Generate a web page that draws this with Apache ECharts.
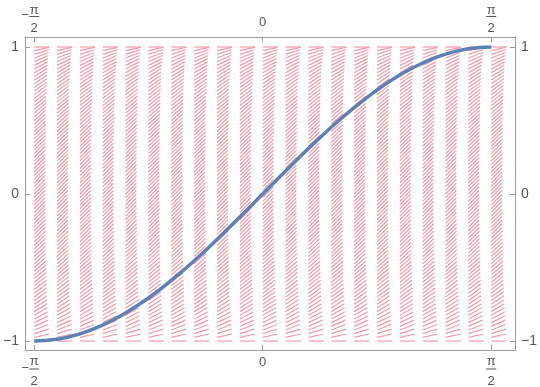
<!DOCTYPE html>
<html><head><meta charset="utf-8">
<script src="https://cdn.jsdelivr.net/npm/echarts@6/dist/echarts.min.js"></script>
<style>html,body{margin:0;padding:0;background:#fff}#c{width:540px;height:387px}</style>
</head><body><div id="c"></div>
<script>
// Tick values and labels
const xTickValues = [-1.5708, 0, 1.5708];
const xTickLabels = ['−π/2', '0', 'π/2'];
const yTickValues = [-1, 0, 1];
const yTickLabels = ['−1', '0', '1'];

// Slope-field grid: column x positions
const fieldX = [-1.5708, -1.4137, -1.2566, -1.0996, -0.9425, -0.7854, -0.6283, -0.4712, -0.3142, -0.1571, 0,
  0.1571, 0.3142, 0.4712, 0.6283, 0.7854, 0.9425, 1.0996, 1.2566, 1.4137, 1.5708];
// row y positions
const fieldY = [-1, -0.975, -0.95, -0.925, -0.9, -0.875, -0.85, -0.825, -0.8, -0.775, -0.75, -0.725, -0.7, -0.675,
  -0.65, -0.625, -0.6, -0.575, -0.55, -0.525, -0.5, -0.475, -0.45, -0.425, -0.4, -0.375, -0.35, -0.325, -0.3,
  -0.275, -0.25, -0.225, -0.2, -0.175, -0.15, -0.125, -0.1, -0.075, -0.05, -0.025, 0,
  0.025, 0.05, 0.075, 0.1, 0.125, 0.15, 0.175, 0.2, 0.225, 0.25, 0.275, 0.3, 0.325, 0.35, 0.375, 0.4, 0.425,
  0.45, 0.475, 0.5, 0.525, 0.55, 0.575, 0.6, 0.625, 0.65, 0.675, 0.7, 0.725, 0.75, 0.775, 0.8, 0.825, 0.85,
  0.875, 0.9, 0.925, 0.95, 0.975, 1];
// slope of the dashes in each row
const fieldSlope = [0, 0.222, 0.312, 0.380, 0.436, 0.484, 0.527, 0.565, 0.600, 0.632, 0.661, 0.689, 0.714, 0.738,
  0.760, 0.781, 0.800, 0.818, 0.835, 0.851, 0.866, 0.880, 0.893, 0.905, 0.917, 0.927, 0.937, 0.946, 0.954,
  0.961, 0.968, 0.974, 0.980, 0.985, 0.989, 0.992, 0.995, 0.997, 0.999, 1.000, 1,
  1.000, 0.999, 0.997, 0.995, 0.992, 0.989, 0.985, 0.980, 0.974, 0.968, 0.961, 0.954, 0.946, 0.937, 0.927, 0.917, 0.905,
  0.893, 0.880, 0.866, 0.851, 0.835, 0.818, 0.800, 0.781, 0.760, 0.738, 0.714, 0.689, 0.661, 0.632, 0.600, 0.565, 0.527,
  0.484, 0.436, 0.380, 0.312, 0.222, 0];

// Solution curve
const curveX = [-1.5708, -1.4137, -1.2566, -1.0996, -0.9425, -0.7854, -0.6283, -0.4712, -0.3142, -0.1571, 0,
  0.1571, 0.3142, 0.4712, 0.6283, 0.7854, 0.9425, 1.0996, 1.2566, 1.4137, 1.5708];
const curveY = [-1, -0.988, -0.951, -0.891, -0.809, -0.707, -0.588, -0.454, -0.309, -0.156, 0,
  0.156, 0.309, 0.454, 0.588, 0.707, 0.809, 0.891, 0.951, 0.988, 1];

const SEG = 0.105;
const FRAME = '#9a9a9a';
const TXT = '#555555';
const FONT = '13px "Liberation Sans", Arial, sans-serif';

const fieldData = [];
fieldX.forEach(x => fieldY.forEach((y, j) => fieldData.push([x, y, fieldSlope[j]])));
const curveData = curveX.map((x, i) => [x, curveY[i]]);

function labelOf(v) {
  const i = xTickValues.findIndex(t => Math.abs(t - v) < 1e-3);
  return i >= 0 ? xTickLabels[i] : '';
}
// fraction labels are drawn as stacked text below; plain labels via the axis
function fmtX(v) { const s = labelOf(v); return s.indexOf('/') >= 0 ? '' : s; }
function fmtY(v) {
  const i = yTickValues.findIndex(t => Math.abs(t - v) < 1e-6);
  return i >= 0 ? yTickLabels[i] : '';
}

function xAxisCfg(pos, margin) {
  return {
    type: 'value', position: pos, min: -1.6342, max: 1.7344,
    axisLine: {show: true, onZero: false, lineStyle: {color: FRAME, width: 1}},
    axisTick: {show: true, inside: true, length: 5, customValues: xTickValues, lineStyle: {color: FRAME}},
    axisLabel: {show: true, customValues: xTickValues, formatter: fmtX, margin: margin, color: TXT, fontSize: 13},
    splitLine: {show: false}
  };
}
function yAxisCfg(pos) {
  return {
    type: 'value', position: pos, min: -1.061, max: 1.068,
    axisLine: {show: true, onZero: false, lineStyle: {color: FRAME, width: 1}},
    axisTick: {show: true, inside: true, length: 5, customValues: yTickValues, lineStyle: {color: FRAME}},
    axisLabel: {show: true, customValues: yTickValues, formatter: fmtY, margin: 6, color: TXT, fontSize: 14},
    splitLine: {show: false}
  };
}

const chart = echarts.init(document.getElementById('c'), null, {renderer: 'canvas'});
chart.setOption({
  animation: false,
  textStyle: {fontFamily: '"Liberation Sans", Arial, sans-serif'},
  grid: {left: 23, right: 23, top: 37, bottom: 37, containLabel: false},
  xAxis: [xAxisCfg('bottom', 6), xAxisCfg('top', 8)],
  yAxis: [yAxisCfg('left'), yAxisCfg('right')],
  series: [
    {
      type: 'custom', xAxisIndex: 0, yAxisIndex: 0, data: fieldData, silent: true,
      renderItem: function (params, api) {
        const x = api.value(0), y = api.value(1), s = api.value(2);
        const n = Math.sqrt(1 + s * s);
        const p0 = api.coord([x, y]);
        const p1 = api.coord([x + SEG / n, y + SEG * s / n]);
        return {type: 'line', shape: {x1: p0[0], y1: p0[1], x2: p1[0], y2: p1[1]},
          style: {stroke: '#f19aaa', lineWidth: 1.2}};
      }
    },
    {
      type: 'line', xAxisIndex: 0, yAxisIndex: 0, data: curveData, smooth: 0.5,
      symbol: 'none', lineStyle: {color: '#5e81b5', width: 3.5}, silent: true
    }
  ]
});

// stacked fraction labels (±π/2) on the top and bottom frame edges
const g = [];
function txt(s, x, y) {
  g.push({type: 'text', x: x, y: y, silent: true, z: 100,
    style: {text: s, fill: TXT, font: FONT, align: 'center', verticalAlign: 'middle'}});
}
[0, 2].forEach(k => {
  const px = chart.convertToPixel({xAxisIndex: 0}, xTickValues[k]);
  const neg = xTickLabels[k].charAt(0) === '−';
  [{num: 10.5, bar: 16.5, den: 28}, {num: 361.5, bar: 369, den: 381}].forEach(p => {
    txt('π', px, p.num);
    txt('2', px, p.den);
    if (neg) txt('−', px - 9, p.bar - 1);
    g.push({type: 'line', silent: true, z: 100,
      shape: {x1: px - 5, y1: p.bar, x2: px + 5, y2: p.bar},
      style: {stroke: TXT, lineWidth: 1}});
  });
});
chart.setOption({graphic: g});
</script></body></html>
